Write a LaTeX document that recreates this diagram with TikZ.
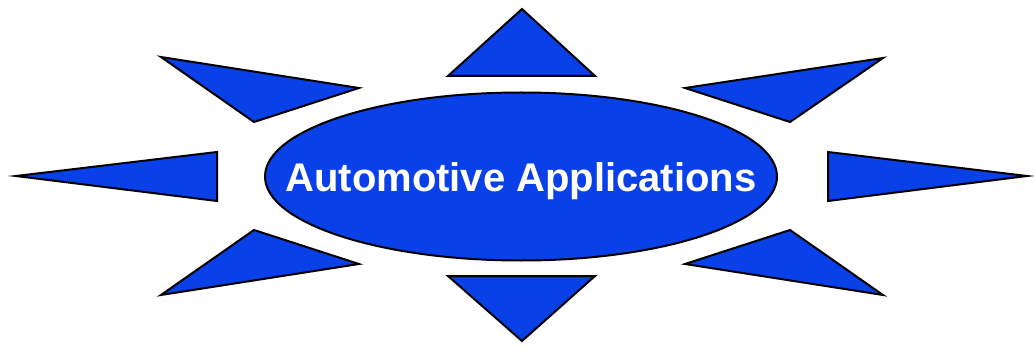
\documentclass[tikz,border=0pt]{standalone}
\usepackage{fontspec}
\setmainfont{Liberation Sans}
\usetikzlibrary{shapes.geometric}
\definecolor{rayblue}{RGB}{9,64,232}
\begin{document}
\begin{tikzpicture}[x=1pt,y=-1pt,
  ray/.style={fill=rayblue,draw=black,line width=2pt,line join=miter},
  hub/.style={ellipse,fill=rayblue,draw=black,line width=2pt,
    minimum width=512pt,minimum height=168pt,inner sep=0pt},
  caption/.style={text=white,inner sep=0pt,anchor=base,
    font=\fontsize{40}{48}\selectfont\bfseries}]
\useasboundingbox (0,0) rectangle (1034,350);
% central ellipse with its caption
\node[hub] (hub) at (521,176.5) {};
\node[caption] (title) at (521,192) {Automotive Applications};
% rays around the ellipse
\draw[ray] (522,9) -- (595,76) -- (448,76) -- cycle;
\draw[ray] (522,341) -- (595,276) -- (448,276) -- cycle;
\draw[ray] (16,176) -- (217,152) -- (217,201) -- cycle;
\draw[ray] (1027,176) -- (828,152) -- (828,201) -- cycle;
\draw[ray] (161,57) -- (359,88) -- (254,122) -- cycle;
\draw[ray] (161,295) -- (359,264) -- (254,230) -- cycle;
\draw[ray] (883,58) -- (685,88) -- (790,122) -- cycle;
\draw[ray] (883,295) -- (685,264) -- (790,230) -- cycle;
\end{tikzpicture}
\end{document}
